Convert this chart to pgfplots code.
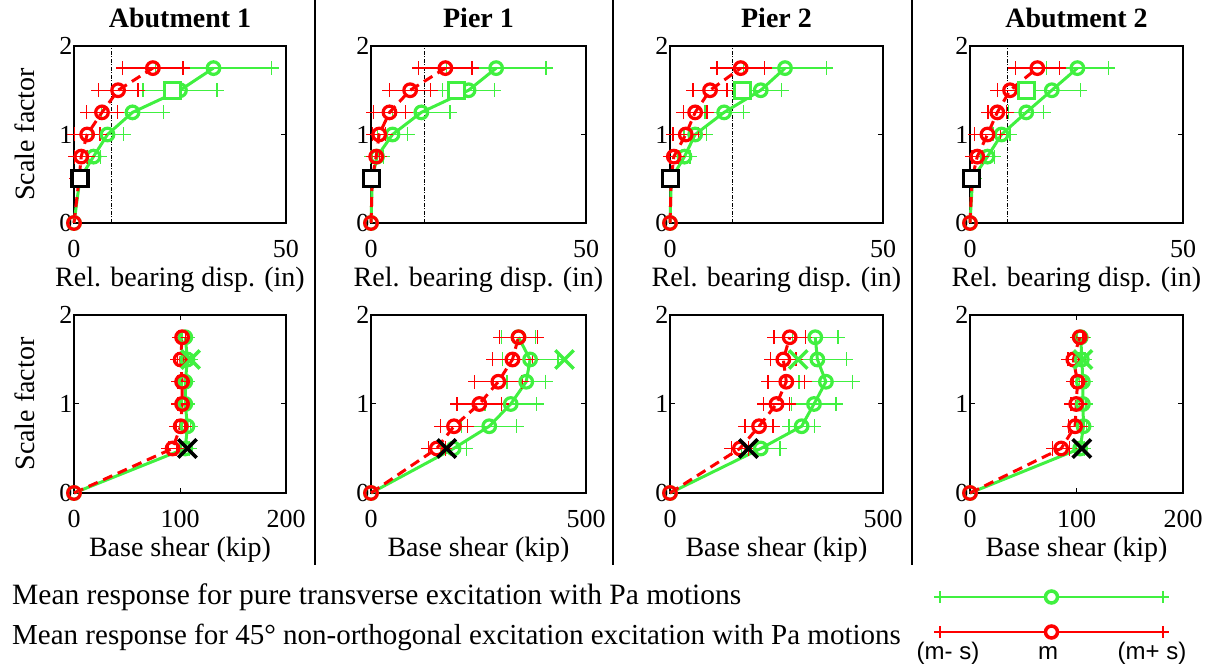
\documentclass[border=0pt]{standalone}
\usepackage{fontspec}
\setmainfont{Liberation Serif}
\setsansfont{Liberation Sans}
\usepackage{pgfplots}
\usepackage{pgfplotstable}
\pgfplotsset{compat=1.18}
\definecolor{mg}{RGB}{64,240,64}
\definecolor{mr}{RGB}{255,0,0}

% columns: y, green mean, green s, red mean, red s
\pgfplotstableread{
y gm gs rm rs
0 0 0 0 0
0.5 1.4 0.8 1.2 0.8
0.75 4.6 1.6 1.7 1.5
1 7.9 3.8 3.1 3.0
1.25 13.8 7.3 6.6 3.6
1.5 25.0 8.7 10.4 4.7
1.75 32.9 13.7 18.6 7.1
}\tA
\pgfplotstableread{
y gm gs rm rs
0 0 0 0 0
0.5 0.3 0.3 0.3 0.3
0.75 1.4 1.5 1.2 0.8
1 5.0 3.5 1.9 1.5
1.25 11.7 6.7 4.3 3.8
1.5 22.7 6.0 9.1 4.8
1.75 29.1 11.6 17.3 6.2
}\tB
\pgfplotstableread{
y gm gs rm rs
0 0 0 0 0
0.5 0.3 0.3 0.3 0.3
0.75 3.4 1.3 0.9 1.0
1 5.9 2.6 3.7 3.0
1.25 12.7 4.5 5.9 2.8
1.5 21.3 4.9 9.4 4.0
1.75 27.0 9.7 16.6 5.6
}\tC
\pgfplotstableread{
y gm gs rm rs
0 0 0 0 0
0.5 0.6 0.5 0.5 0.5
0.75 4.1 1.6 1.7 1.2
1 7.4 2.0 4.1 3.0
1.25 13.2 4.1 6.4 2.2
1.5 19.2 6.7 9.4 3.0
1.75 25.2 7.3 15.8 5.2
}\tD
\pgfplotstableread{
y gm gs rm rs
0 0 0 0 0
0.5 105 4 93 4
0.75 107 3 100.6 4
1 105 3 102 4
1.25 105 3 102 4
1.5 107 3 100.6 3
1.75 105 3 102 3
}\bA
\pgfplotstableread{
y gm gs rm rs
0 0 0 0 0
0.5 192 30 153 20
0.75 275 64 193 31
1 325 60 252 52
1.25 361 45 296 55
1.5 370 65 329 46
1.75 343 40 343 44
}\bB
\pgfplotstableread{
y gm gs rm rs
0 0 0 0 0
0.5 213 45 164 20
0.75 309 30 209 33
1 338 52 250 30
1.25 366 63 273 43
1.5 346 68 266 30
1.75 341 53 281 37
}\bC
\pgfplotstableread{
y gm gs rm rs
0 0 0 0 0
0.5 103.4 4 85.6 8
0.75 106.6 3 98.7 6
1 106 3 99.7 5
1.25 106 3 101 4
1.5 105 3 97 5
1.75 104 3 103 3
}\bD

\pgfplotsset{
  panel/.style={scale only axis, anchor=south west, ymin=0, ymax=2, ytick={0,1,2},
    tick align=inside, major tick length=5pt, clip=false,
    /pgf/number format/assume math mode=true,
    axis line style={line width=1.2pt}, every tick/.style={line width=1pt, black},
    tick label style={font=\fontsize{26}{26}\selectfont},
    xticklabel style={yshift=-14pt},
    yticklabel style={xshift=2pt},
    label style={font=\fontsize{28}{28}\selectfont},
    title style={font=\fontsize{28}{28}\selectfont\bfseries, at={(axis description cs:0.5,1.125)}, anchor=center},
    xlabel style={at={(axis description cs:0.5,-0.32)}, anchor=center},
    ylabel style={at={(axis description cs:-0.231,0.5)}, anchor=center, rotate=0},
  },
  top/.style={panel, height=177pt, xmin=0, xmax=50, xtick={0,50}, xlabel={Rel. bearing disp. (in)}},
  bot/.style={panel, height=178pt, xlabel={Base shear (kip)}},
  errg/.style={mark=none, draw=none, forget plot,
    error bars/.cd, x dir=both, x explicit, error mark=+,
    error bar style={draw=mg, line width=1.3pt, solid},
    error mark options={draw=mg, mark size=7pt, line width=1.3pt}},
  errr/.style={mark=none, draw=none, forget plot,
    error bars/.cd, x dir=both, x explicit, error mark=+,
    error bar style={draw=mr, line width=1.3pt, solid},
    error mark options={draw=mr, mark size=7pt, line width=1.3pt}},
  gline/.style={mg, line width=3pt, mark=o, mark options={solid, line width=3.2pt, mark size=6.3pt}},
  rline/.style={mr, line width=3pt, dash pattern=on 10pt off 6pt, mark=o, mark options={solid, line width=3.2pt, mark size=6.3pt}},
  bsq/.style={black, only marks, mark=square*, mark options={line width=3.2pt, mark size=8pt, draw=black, fill=white}},
  gsq/.style={mg, only marks, mark=square*, mark options={line width=3.2pt, mark size=8pt, draw=mg, fill=white}},
  bx/.style={black, only marks, mark=x, mark options={line width=3.5pt, mark size=13pt}},
  gx/.style={mg, only marks, mark=x, mark options={line width=3.5pt, mark size=13pt}},
  vl/.style={black, line width=1pt, dash pattern=on 4pt off 1.5pt on 1pt off 1.5pt},
}

\newcommand{\series}[1]{%
  \addplot[errg] table[x=gm, y=y, x error=gs, skip coords between index={0}{1}] {#1};
  \addplot[gline] table[x=gm, y=y] {#1};
  \addplot[errr] table[x=rm, y=y, x error=rs, skip coords between index={0}{1}] {#1};
  \addplot[rline] table[x=rm, y=y] {#1};
}

\begin{document}
\begin{tikzpicture}[x=1pt,y=1pt]
\useasboundingbox (0,0) rectangle (1213,667);

% ---- top row ----
\begin{axis}[top, at={(74pt,444pt)}, width=212pt, title={Abutment 1}, ylabel={Scale factor}]
  \addplot[vl] coordinates {(8.9,0) (8.9,2)};
  \series{\tA}
  \addplot[bsq] coordinates {(1.4,0.5)};
  \addplot[gsq] coordinates {(23.3,1.5)};
\end{axis}
\begin{axis}[top, at={(371pt,444pt)}, width=215pt, title={Pier 1}]
  \addplot[vl] coordinates {(12.5,0) (12.5,2)};
  \series{\tB}
  \addplot[bsq] coordinates {(0.1,0.5)};
  \addplot[gsq] coordinates {(19.8,1.5)};
\end{axis}
\begin{axis}[top, at={(670pt,444pt)}, width=213pt, title={Pier 2}]
  \addplot[vl] coordinates {(14.7,0) (14.7,2)};
  \series{\tC}
  \addplot[bsq] coordinates {(0.2,0.5)};
  \addplot[gsq] coordinates {(17.0,1.5)};
\end{axis}
\begin{axis}[top, at={(970pt,444pt)}, width=213pt, title={Abutment 2}]
  \addplot[vl] coordinates {(8.8,0) (8.8,2)};
  \series{\tD}
  \addplot[bsq] coordinates {(0.4,0.5)};
  \addplot[gsq] coordinates {(13.3,1.5)};
\end{axis}

% ---- bottom row ----
\begin{axis}[bot, at={(74pt,174pt)}, width=212pt, xmin=0, xmax=200, xtick={0,100,200}, ylabel={Scale factor}]
  \series{\bA}
  \addplot[gx] coordinates {(110,1.5)};
  \addplot[bx] coordinates {(107,0.5)};
\end{axis}
\begin{axis}[bot, at={(371pt,174pt)}, width=215pt, xmin=0, xmax=500, xtick={0,500}]
  \series{\bB}
  \addplot[gx] coordinates {(450,1.5)};
  \addplot[bx] coordinates {(176,0.5)};
\end{axis}
\begin{axis}[bot, at={(670pt,174pt)}, width=213pt, xmin=0, xmax=500, xtick={0,500}]
  \series{\bC}
  \addplot[gx] coordinates {(301,1.5)};
  \addplot[bx] coordinates {(184,0.5)};
\end{axis}
\begin{axis}[bot, at={(970pt,174pt)}, width=213pt, xmin=0, xmax=200, xtick={0,100,200}]
  \series{\bD}
  \addplot[gx] coordinates {(106,1.5)};
  \addplot[bx] coordinates {(105,0.5)};
\end{axis}

% separators
\draw[line width=1.2pt] (315,667) -- (315,102);
\draw[line width=1.2pt] (613,667) -- (613,102);
\draw[line width=1.2pt] (912,667) -- (912,102);

% legend
\node[anchor=west, inner sep=0pt, font=\fontsize{29.5}{29.5}\selectfont] at (12,70) {Mean response for pure transverse excitation with Pa motions};
\node[anchor=west, inner sep=0pt, font=\fontsize{29}{29}\selectfont] at (12,30) {Mean response for 45° non-orthogonal excitation excitation with Pa motions};
\begin{axis}[anchor=south west, at={(940pt,35pt)}, scale only axis, width=223pt, height=35pt,
  xmin=-1, xmax=1, ymin=0, ymax=1, hide axis, clip=false]
  \addplot[mg, mark=*, mark options={line width=3.5pt, mark size=6pt, draw=mg, fill=white},
    error bars/.cd, x dir=both, x explicit, error mark=+,
    error bar style={line width=2pt}, error mark options={mark size=6pt, line width=1.5pt}]
    coordinates {(0,1) +- (1,0)};
  \addplot[mr, mark=*, mark options={line width=3.5pt, mark size=6pt, draw=mr, fill=white},
    error bars/.cd, x dir=both, x explicit, error mark=+,
    error bar style={line width=2pt}, error mark options={mark size=6pt, line width=1.5pt}]
    coordinates {(0,0) +- (1,0)};
\end{axis}
\node[font=\sffamily\fontsize{24}{24}\selectfont] at (948,14) {(m- s)};
\node[font=\sffamily\fontsize{24}{24}\selectfont] at (1048,14) {m};
\node[font=\sffamily\fontsize{24}{24}\selectfont] at (1152,14) {(m+ s)};
\end{tikzpicture}
\end{document}
